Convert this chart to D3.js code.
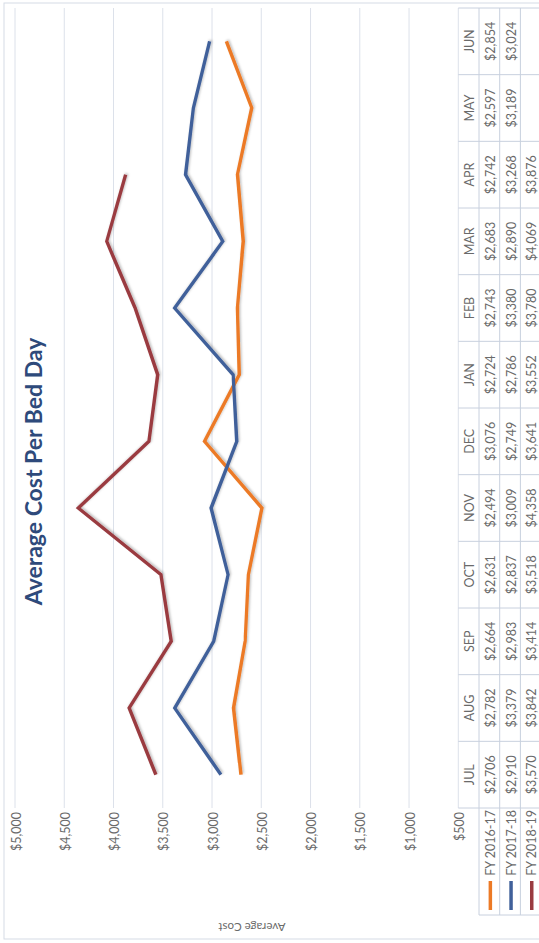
<!DOCTYPE html>
<html>
<head>
<meta charset="utf-8">
<script src="https://cdn.jsdelivr.net/npm/d3@7"></script>
<style>
  html, body { margin: 0; padding: 0; background: #fff; }
  svg { display: block; font-family: Lato, "Open Sans", sans-serif; }
</style>
</head>
<body>
<svg id="chart" width="539" height="943"></svg>
<script>
// Fiscal-year months
const months = ["JUL", "AUG", "SEP", "OCT", "NOV", "DEC", "JAN", "FEB", "MAR", "APR", "MAY", "JUN"];

// Average cost per bed day, one array per fiscal year
const fy1617 = [2706, 2782, 2664, 2631, 2494, 3076, 2724, 2743, 2683, 2742, 2597, 2854];
const fy1718 = [2910, 3379, 2983, 2837, 3009, 2749, 2786, 3380, 2890, 3268, 3189, 3024];
const fy1819 = [3570, 3842, 3414, 3518, 4358, 3641, 3552, 3780, 4069, 3876, null, null];

const seriesNames = ["FY 2016-17", "FY 2017-18", "FY 2018-19"];
const seriesColors = ["#EC7A26", "#40609A", "#9A3B40"];

const yTicks = [500, 1000, 1500, 2000, 2500, 3000, 3500, 4000, 4500, 5000];

const series = [fy1617, fy1718, fy1819].map((values, i) => ({
  name: seriesNames[i], color: seriesColors[i], values
}));

// The chart is laid out landscape (W x H) and turned a quarter turn to fit the page.
const W = 943, H = 539;
const svg = d3.select("#chart");
const defs = svg.append("defs");
const shadow = defs.append("filter").attr("id", "soft").attr("x", "-20%").attr("y", "-20%").attr("width", "140%").attr("height", "140%");
shadow.append("feDropShadow").attr("dx", 1.2).attr("dy", 1.2).attr("stdDeviation", 1.2)
  .attr("flood-color", "#000").attr("flood-opacity", 0.25);

const g = svg.append("g").attr("transform", `translate(0,${W}) rotate(-90)`);

// outer chart frame
g.append("rect").attr("x", 4).attr("y", 4).attr("width", W - 7).attr("height", H + 40)
  .attr("fill", "none").attr("stroke", "#D5DBE5").attr("stroke-width", 1);

const x = d3.scaleBand().domain(months).range([135, 935]);
const y = d3.scaleLinear().domain([500, 5000]).range([458.3, 15]);
const bw = x.bandwidth();

// horizontal gridlines
g.append("g").selectAll("line").data(yTicks).join("line")
  .attr("x1", 135).attr("x2", 935)
  .attr("y1", d => y(d)).attr("y2", d => y(d))
  .attr("stroke", "#DCE1EA").attr("stroke-width", 1);

// value axis labels
const fmt = d3.format(",");
g.append("g").selectAll("text").data(yTicks).join("text")
  .attr("x", 131).attr("y", d => y(d) + 1)
  .attr("text-anchor", "end").attr("dominant-baseline", "central")
  .attr("font-size", 12.5).attr("fill", "#6A6A6A")
  .text(d => "$" + fmt(d));

// value axis title
g.append("text")
  .attr("transform", `translate(16,252) rotate(-90)`)
  .attr("text-anchor", "middle").attr("dominant-baseline", "central")
  .attr("font-size", 11.5).attr("fill", "#6A6A6A")
  .text("Average Cost");

// chart title
g.append("text")
  .attr("x", 471.5).attr("y", 33)
  .attr("text-anchor", "middle").attr("dominant-baseline", "central")
  .attr("font-size", 23).attr("font-weight", "bold").attr("fill", "#2E4A7B")
  .text("Average Cost Per Bed Day");

// lines
const line = d3.line()
  .defined(d => d != null)
  .x((d, i) => x(months[i]) + bw / 2)
  .y(d => y(d));

g.append("g").attr("filter", "url(#soft)").selectAll("path").data(series).join("path")
  .attr("d", s => line(s.values))
  .attr("fill", "none").attr("stroke", s => s.color)
  .attr("stroke-width", 3.4).attr("stroke-linejoin", "miter");

// data table
const tableTop = y(500);
const headerH = 20.7, rowH = 20.7;
const legendLeft = 28, tableRight = 935;
const gridColor = "#C8D0DE";
const tbl = g.append("g");

// column dividers (header + rows)
const colEdges = months.map(m => x(m)).concat([tableRight]);
tbl.selectAll("line.col").data(colEdges).join("line")
  .attr("x1", d => d).attr("x2", d => d)
  .attr("y1", tableTop).attr("y2", tableTop + headerH + rowH * 3)
  .attr("stroke", gridColor);

// row dividers
const rowEdges = [0, 1, 2, 3].map(i => tableTop + headerH + rowH * i);
tbl.selectAll("line.row").data(rowEdges).join("line")
  .attr("x1", legendLeft).attr("x2", tableRight)
  .attr("y1", d => d).attr("y2", d => d)
  .attr("stroke", gridColor);

// legend column left edge
tbl.append("line")
  .attr("x1", legendLeft).attr("x2", legendLeft)
  .attr("y1", tableTop + headerH).attr("y2", tableTop + headerH + rowH * 3)
  .attr("stroke", gridColor);

// month headers
tbl.selectAll("text.hdr").data(months).join("text")
  .attr("x", d => x(d) + bw / 2).attr("y", tableTop + headerH / 2 + 1)
  .attr("text-anchor", "middle").attr("dominant-baseline", "central")
  .attr("font-size", 12.5).attr("fill", "#6A6A6A")
  .text(d => d);

// value rows with legend keys
series.forEach((s, r) => {
  const cy = tableTop + headerH + rowH * r + rowH / 2 + 1;
  tbl.append("line")
    .attr("x1", 33).attr("x2", 62).attr("y1", cy).attr("y2", cy)
    .attr("stroke", s.color).attr("stroke-width", 3.5);
  tbl.append("text")
    .attr("x", 133).attr("y", cy)
    .attr("text-anchor", "end").attr("dominant-baseline", "central")
    .attr("font-size", 12.5).attr("fill", "#6A6A6A")
    .text(s.name);
  tbl.append("g").selectAll("text").data(s.values.map((v, i) => ({ v, m: months[i] })).filter(d => d.v != null))
    .join("text")
    .attr("x", d => x(d.m) + bw / 2).attr("y", cy)
    .attr("text-anchor", "middle").attr("dominant-baseline", "central")
    .attr("font-size", 12.5).attr("fill", "#6A6A6A")
    .text(d => "$" + fmt(d.v));
});
</script>
</body>
</html>
